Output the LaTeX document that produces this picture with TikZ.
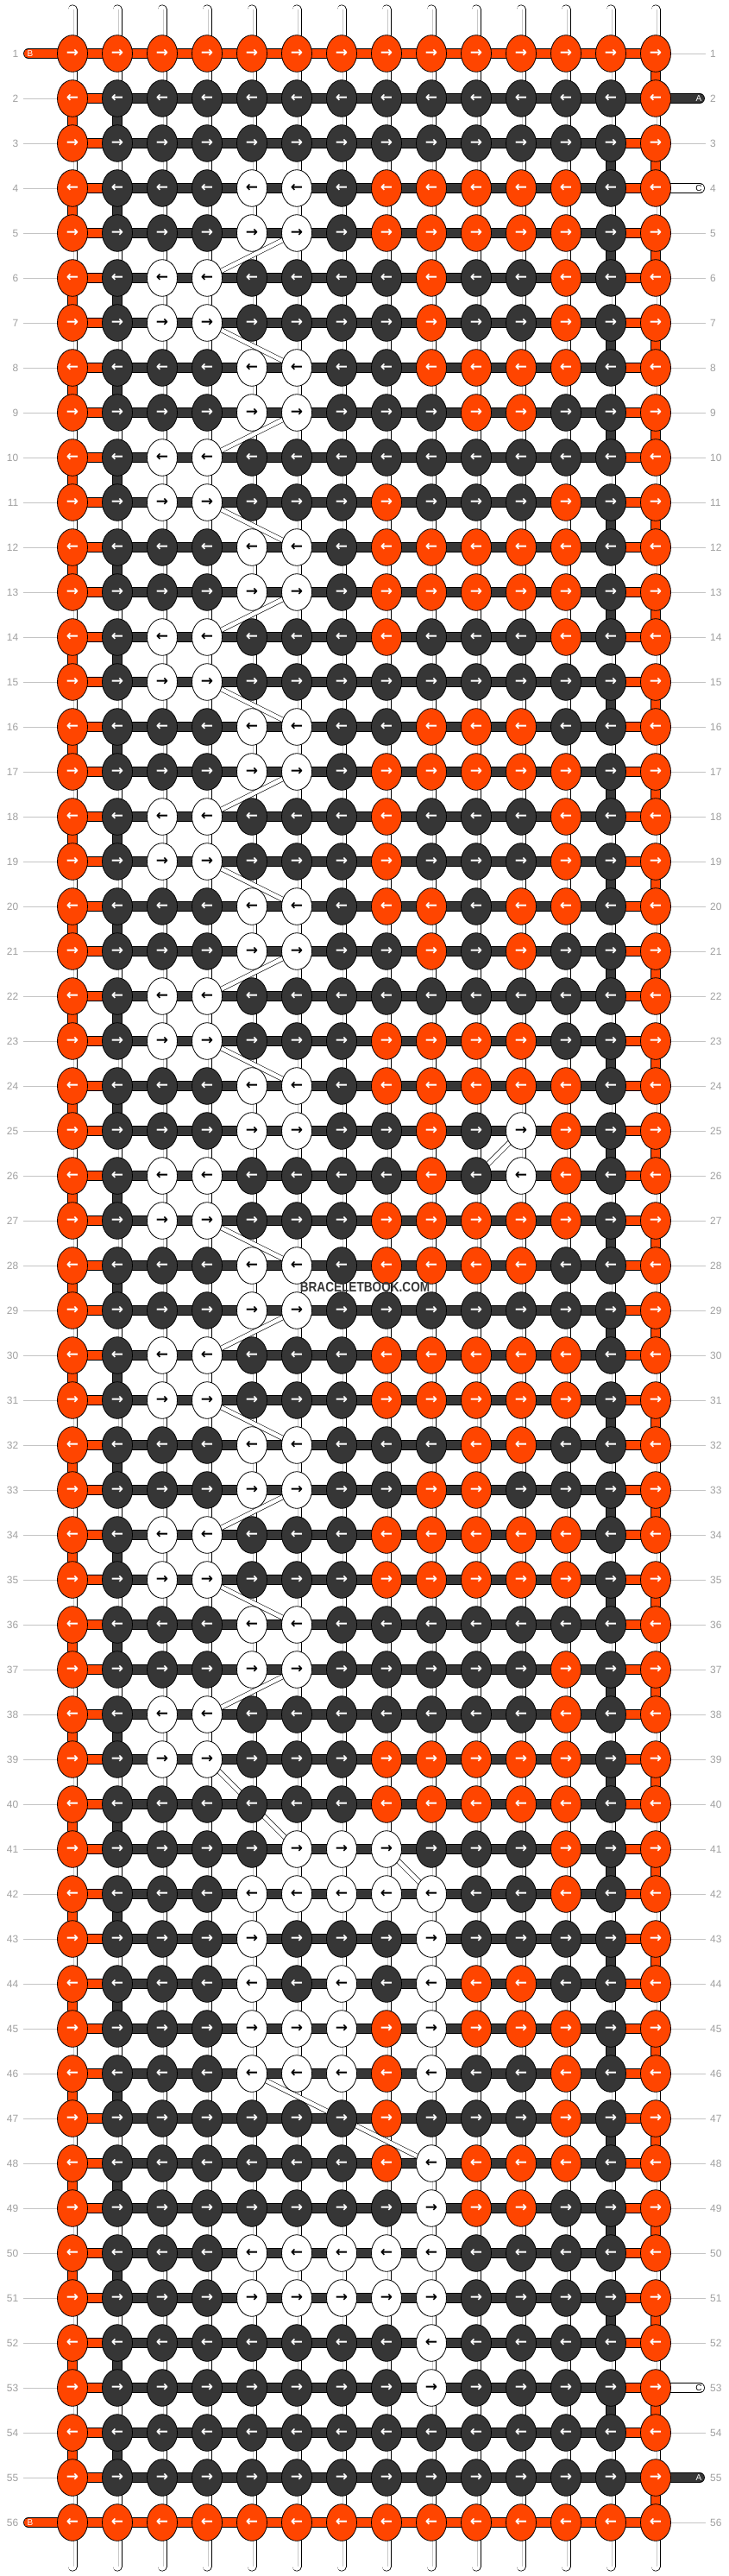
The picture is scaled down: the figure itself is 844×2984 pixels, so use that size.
\documentclass[tikz,border=0pt]{standalone}
\usepackage{fontspec}
\setmainfont{Liberation Sans}
\newfontfamily\arrowfont{DejaVu Sans}
\usetikzlibrary{shapes.geometric}
\pgfdeclarelayer{bg}
\pgfsetlayers{bg,main}
\definecolor{bbO}{HTML}{FF4500}
\definecolor{bbD}{HTML}{363636}
\definecolor{bbG}{HTML}{A0A0A0}
\definecolor{bbL}{HTML}{C4C4C4}
\definecolor{bbT}{HTML}{C8C8C8}
\newcount\kr
\newcount\kc
\newcommand\knotrow[2]{\global\kr=#1\relax\global\kc=0\relax
  \ifodd#1\relax\gdef\karr{→}\else\gdef\karr{←}\fi
  \kparse#2\relax}
\newcommand\kparse[1]{\ifx#1\relax\else
  \global\advance\kc by 1\relax
  \node[k#1] (k-\the\kr-\the\kc) at ({84+52*(\the\kc-1)},{62+52*(\the\kr-1)}) {\karr};
  \expandafter\kparse\fi}
\tikzset{
 knot/.style={ellipse, draw=black, line width=0.8pt, minimum width=35pt, minimum height=42.6pt, inner sep=0pt, font=\arrowfont\bfseries\fontsize{17}{17}\selectfont},
 kO/.style={knot, fill=bbO, text=white},
 kD/.style={knot, fill=bbD, text=white},
 kW/.style={knot, fill=white, text=black},
 conn/.style={draw=black, line width=0.6pt, double distance=10.6pt},
 tube/.style={draw=black, line width=0.7pt, double=white, double distance=9.6pt},
 tubeline/.style={draw=bbT, line width=0.8pt},
 band/.style={draw=black, line width=0.6pt, double=white, double distance=4.6pt},
 numlab/.style={inner sep=0pt, text=bbG, font=\fontsize{12}{12}\selectfont},
 labline/.style={draw=bbL, line width=0.8pt},
 sidelab/.style={inner sep=0pt, font=\fontsize{10}{10}\selectfont},
}
\begin{document}
\begin{tikzpicture}[x=1pt,y=-1pt]
\useasboundingbox (0,0) rectangle (844,2984);
\knotrow{1}{OOOOOOOOOOOOOO}
\knotrow{2}{ODDDDDDDDDDDDO}
\knotrow{3}{ODDDDDDDDDDDDO}
\knotrow{4}{ODDDWWDOOOOODO}
\knotrow{5}{ODDDWWDOOOOODO}
\knotrow{6}{ODWWDDDDODDODO}
\knotrow{7}{ODWWDDDDODDODO}
\knotrow{8}{ODDDWWDDOOOODO}
\knotrow{9}{ODDDWWDDDOODDO}
\knotrow{10}{ODWWDDDDDDDDDO}
\knotrow{11}{ODWWDDDODDDODO}
\knotrow{12}{ODDDWWDOOOOODO}
\knotrow{13}{ODDDWWDOOOOODO}
\knotrow{14}{ODWWDDDODDDODO}
\knotrow{15}{ODWWDDDDDDDDDO}
\knotrow{16}{ODDDWWDDOOODDO}
\knotrow{17}{ODDDWWDOOOOODO}
\knotrow{18}{ODWWDDDODDDODO}
\knotrow{19}{ODWWDDDODDDODO}
\knotrow{20}{ODDDWWDOODOODO}
\knotrow{21}{ODDDWWDDODODDO}
\knotrow{22}{ODWWDDDDDDDDDO}
\knotrow{23}{ODWWDDDOOOODDO}
\knotrow{24}{ODDDWWDOOOOODO}
\knotrow{25}{ODDDWWDDODWODO}
\knotrow{26}{ODWWDDDDODWODO}
\knotrow{27}{ODWWDDDOOOOODO}
\knotrow{28}{ODDDWWDOOOODDO}
\knotrow{29}{ODDDWWDDDDDDDO}
\knotrow{30}{ODWWDDDOOOOODO}
\knotrow{31}{ODWWDDDOOOOODO}
\knotrow{32}{ODDDWWDDDOODDO}
\knotrow{33}{ODDDWWDDOODDDO}
\knotrow{34}{ODWWDDDOOOOODO}
\knotrow{35}{ODWWDDDOOOOODO}
\knotrow{36}{ODDDWWDDDDDDDO}
\knotrow{37}{ODDDWWDDDDDODO}
\knotrow{38}{ODWWDDDDDDDODO}
\knotrow{39}{ODWWDDDOOOOODO}
\knotrow{40}{ODDDDDDOOOOODO}
\knotrow{41}{ODDDDWWWDDDODO}
\knotrow{42}{ODDDWWWWWDDODO}
\knotrow{43}{ODDDWDDDWDDDDO}
\knotrow{44}{ODDDWDWDWOODDO}
\knotrow{45}{ODDDWWWOWOOODO}
\knotrow{46}{ODDDWWWOWDDODO}
\knotrow{47}{ODDDDDDODDDODO}
\knotrow{48}{ODDDDDDOWOOODO}
\knotrow{49}{ODDDDDDDWOODDO}
\knotrow{50}{ODDDWWWWWDDDDO}
\knotrow{51}{ODDDWWWWWDDDDO}
\knotrow{52}{ODDDDDDDWDDDDO}
\knotrow{53}{ODDDDDDDWDDDDO}
\knotrow{54}{ODDDDDDDDDDDDO}
\knotrow{55}{ODDDDDDDDDDDDO}
\knotrow{56}{OOOOOOOOOOOOOO}
\begin{pgfonlayer}{bg}
\fill[white] (0,0) rectangle (844,2984);
% top and bottom string ends
\foreach \c in {1,...,14}{
  \coordinate (tt-\c) at ({84+52*(\c-1)},11);
  \coordinate (tb-\c) at ({84+52*(\c-1)},2973);
  \draw[tube, line cap=round] (tt-\c) -- (k-1-\c.center);
  \draw[tube, line cap=round] (k-56-\c.center) -- (tb-\c);
  \draw[tubeline] ([xshift=1pt]tt-\c) -- ([xshift=1pt]k-1-\c.center);
  \draw[tubeline] ([xshift=1pt]k-56-\c.center) -- ([xshift=1pt]tb-\c);
}
% vertical links
\foreach \r in {1,...,55}{
  \pgfmathtruncatemacro\rn{\r+1}
  \foreach \c in {1,...,14}{
    \def\vc{0}
    \ifodd\r
      \ifnum\c=14 \def\vc{1}\fi
      \ifnum\c=13 \ifnum\r>1 \ifnum\r<55 \def\vc{2}\fi\fi\fi
    \else
      \ifnum\c=1 \def\vc{1}\fi
      \ifnum\c=2 \def\vc{2}\fi
    \fi
    \ifnum\vc=0
      \draw[tube] (k-\r-\c.center) -- (k-\rn-\c.center);
      \draw[tubeline] ([xshift=1pt]k-\r-\c.center) -- ([xshift=1pt]k-\rn-\c.center);
    \fi
    \ifnum\vc=1 \draw[conn, double=bbO] (k-\r-\c.center) -- (k-\rn-\c.center); \fi
    \ifnum\vc=2 \draw[conn, double=bbD] (k-\r-\c.center) -- (k-\rn-\c.center); \fi
  }
}
% horizontal links
\foreach \r in {1,...,56}{
  \foreach \c in {1,...,13}{
    \pgfmathtruncatemacro\cn{\c+1}
    \def\hc{bbD}
    \ifnum\c=1 \def\hc{bbO}\fi
    \ifnum\c=13 \def\hc{bbO}\ifnum\r=2 \def\hc{bbD}\fi\ifnum\r=55 \def\hc{bbD}\fi\fi
    \ifnum\r=1 \def\hc{bbO}\fi
    \ifnum\r=56 \def\hc{bbO}\fi
    \draw[conn, double=\hc] (k-\r-\c.center) -- (k-\r-\cn.center);
  }
}
% side strings
\coordinate (sB1) at (33,62);
\coordinate (sB56) at (33,2922);
\coordinate (sA2) at (811,114);
\coordinate (sA55) at (811,2870);
\coordinate (sC4) at (811,218);
\coordinate (sC53) at (811,2766);
\draw[conn, double=bbO, line cap=round] (sB1) -- (k-1-1.center);
\draw[conn, double=bbO, line cap=round] (sB56) -- (k-56-1.center);
\draw[conn, double=bbD, line cap=round] (k-2-14.center) -- (sA2);
\draw[conn, double=bbD, line cap=round] (k-55-14.center) -- (sA55);
\draw[conn, double=white, line cap=round] (k-4-14.center) -- (sC4);
\draw[conn, double=white, line cap=round] (k-53-14.center) -- (sC53);
% crossing strands
\foreach \ra/\ca/\rb/\cb in {5/6/6/4, 7/4/8/6, 9/6/10/4, 11/4/12/6, 13/6/14/4, 15/4/16/6, 17/6/18/4, 19/4/20/6, 21/6/22/4, 23/4/24/6, 25/11/26/10, 27/4/28/6, 29/6/30/4, 31/4/32/6, 33/6/34/4, 35/4/36/6, 37/6/38/4, 39/4/41/6, 41/8/42/9, 46/5/48/9}
  \draw[band] (k-\ra-\ca.center) -- (k-\rb-\cb.center);
\end{pgfonlayer}
% side labels
\node[sidelab, text=white] (lB1) at (35,62) {B};
\node[sidelab, text=white] (lB56) at (35,2922) {B};
\node[sidelab, text=white] (lA2) at (810,114) {A};
\node[sidelab, text=white] (lA55) at (810,2870) {A};
\node[sidelab, text=black] (lC4) at (810,218) {C};
\node[sidelab, text=black] (lC53) at (810,2766) {C};
% row numbers
\foreach \r in {1,...,56}{
  \node[numlab, anchor=east] (nl-\r) at (21.5,{62+52*(\r-1)}) {\r};
  \node[numlab, anchor=west] (nr-\r) at (823,{62+52*(\r-1)}) {\r};
}
\foreach \r in {2,...,55}
  \draw[labline] ([xshift=5pt]nl-\r.east) -- (k-\r-1.west);
\foreach \r in {1,3,5,6,...,52,54,56}
  \draw[labline] (k-\r-14.east) -- ([xshift=-5pt]nr-\r.west);
% watermark
\node[inner sep=0pt, text=bbD, font=\bfseries\fontsize{16}{16}\selectfont] (wm) at (423,1491) {\scalebox{0.85}[1]{BRACELETBOOK.COM}};
\end{tikzpicture}
\end{document}
